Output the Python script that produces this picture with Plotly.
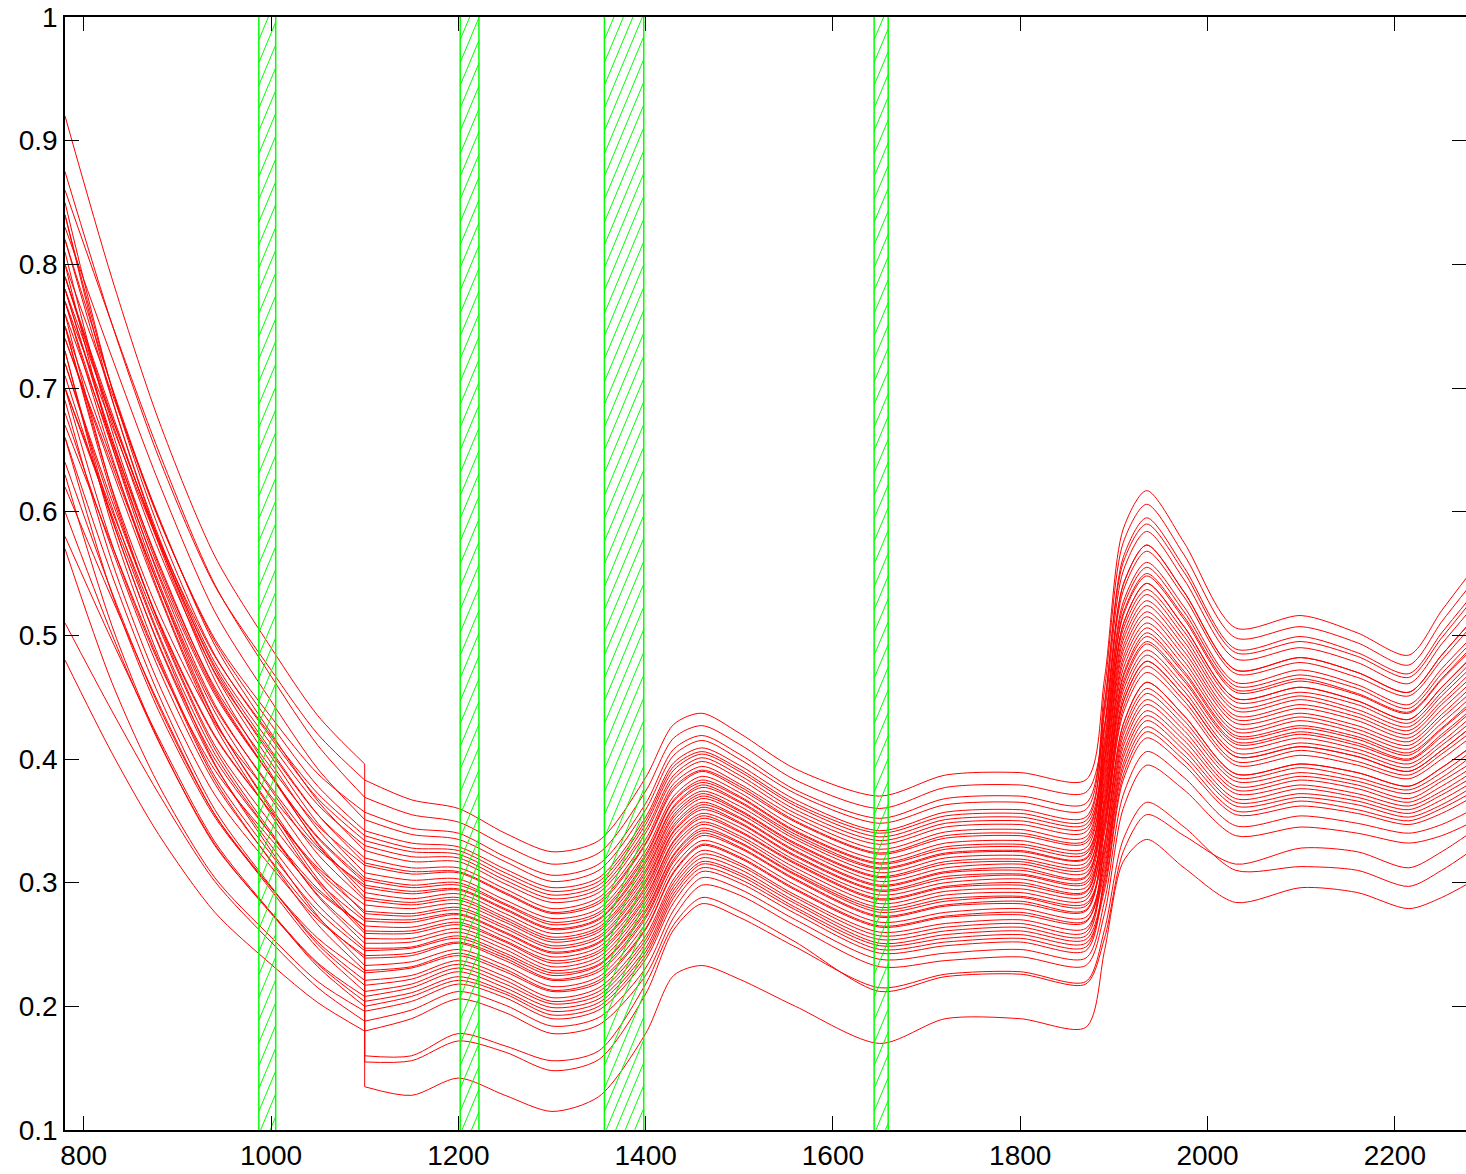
import plotly.graph_objects as go

# ---------------- data ----------------
LEFT_X = [780, 830, 880, 940, 1000, 1050, 1100]
RIGHT_X = [1100, 1150, 1200, 1250, 1300, 1350, 1400, 1430, 1460, 1500, 1560, 1650,
           1720, 1800, 1870, 1890, 1910, 1935, 1975, 2030, 2100, 2160, 2215, 2250, 2280]

left_rows = [
    [0.920, 0.789, 0.674, 0.564, 0.490, 0.435, 0.396],
    [0.780, 0.660, 0.554, 0.454, 0.386, 0.336, 0.300],
    [0.700, 0.574, 0.478, 0.391, 0.335, 0.293, 0.265],
    [0.875, 0.752, 0.644, 0.540, 0.472, 0.420, 0.383],
    [0.860, 0.752, 0.649, 0.541, 0.467, 0.411, 0.369],
    [0.840, 0.700, 0.594, 0.497, 0.434, 0.388, 0.357],
    [0.820, 0.701, 0.595, 0.495, 0.428, 0.378, 0.342],
    [0.850, 0.700, 0.587, 0.484, 0.417, 0.368, 0.334],
    [0.800, 0.696, 0.596, 0.492, 0.421, 0.366, 0.326],
    [0.790, 0.673, 0.569, 0.470, 0.405, 0.355, 0.320],
    [0.810, 0.666, 0.557, 0.458, 0.393, 0.346, 0.314],
    [0.780, 0.676, 0.577, 0.473, 0.402, 0.348, 0.308],
    [0.770, 0.653, 0.550, 0.452, 0.386, 0.337, 0.302],
    [0.800, 0.654, 0.543, 0.442, 0.377, 0.329, 0.296],
    [0.760, 0.657, 0.559, 0.456, 0.386, 0.332, 0.292],
    [0.780, 0.657, 0.548, 0.444, 0.375, 0.323, 0.286],
    [0.750, 0.614, 0.511, 0.418, 0.357, 0.312, 0.282],
    [0.740, 0.638, 0.540, 0.438, 0.368, 0.315, 0.275],
    [0.770, 0.645, 0.535, 0.431, 0.361, 0.308, 0.271],
    [0.730, 0.595, 0.493, 0.400, 0.339, 0.295, 0.265],
    [0.750, 0.642, 0.540, 0.432, 0.359, 0.303, 0.261],
    [0.720, 0.604, 0.501, 0.404, 0.339, 0.290, 0.255],
    [0.700, 0.601, 0.507, 0.408, 0.341, 0.289, 0.251],
    [0.730, 0.589, 0.483, 0.386, 0.323, 0.277, 0.245],
    [0.680, 0.570, 0.473, 0.380, 0.318, 0.272, 0.239],
    [0.700, 0.597, 0.499, 0.396, 0.326, 0.273, 0.233],
    [0.660, 0.534, 0.439, 0.353, 0.296, 0.255, 0.227],
    [0.640, 0.535, 0.443, 0.355, 0.296, 0.252, 0.221],
    [0.620, 0.530, 0.445, 0.355, 0.294, 0.247, 0.212],
    [0.600, 0.501, 0.414, 0.331, 0.275, 0.234, 0.204],
    [0.570, 0.462, 0.379, 0.304, 0.256, 0.220, 0.196],
    [0.510, 0.439, 0.372, 0.301, 0.252, 0.215, 0.188],
    [0.480, 0.405, 0.339, 0.276, 0.234, 0.203, 0.180],
    [0.830, 0.725, 0.624, 0.519, 0.447, 0.392, 0.351],
    [0.790, 0.677, 0.578, 0.483, 0.419, 0.372, 0.338],
    [0.840, 0.692, 0.580, 0.478, 0.412, 0.363, 0.330],
    [0.770, 0.670, 0.575, 0.475, 0.407, 0.355, 0.316],
    [0.820, 0.691, 0.577, 0.469, 0.397, 0.343, 0.304],
    [0.750, 0.619, 0.519, 0.429, 0.370, 0.327, 0.298],
    [0.790, 0.680, 0.574, 0.464, 0.388, 0.331, 0.288],
    [0.720, 0.609, 0.512, 0.419, 0.357, 0.310, 0.277],
    [0.760, 0.618, 0.510, 0.411, 0.348, 0.301, 0.269],
    [0.740, 0.634, 0.533, 0.427, 0.355, 0.300, 0.259],
    [0.710, 0.594, 0.492, 0.395, 0.330, 0.282, 0.247],
    [0.690, 0.560, 0.461, 0.371, 0.313, 0.270, 0.241],
    [0.670, 0.573, 0.480, 0.383, 0.317, 0.266, 0.229],
    [0.660, 0.549, 0.452, 0.359, 0.297, 0.250, 0.217],
    [0.630, 0.508, 0.415, 0.330, 0.276, 0.235, 0.208],
    [0.580, 0.496, 0.417, 0.333, 0.276, 0.232, 0.200],
]

right_rows = [
    [0.135, 0.128, 0.142, 0.128, 0.115, 0.127, 0.178, 0.225, 0.233, 0.222, 0.200, 0.170, 0.190, 0.190, 0.183, 0.245, 0.317, 0.335, 0.312, 0.284, 0.296, 0.292, 0.279, 0.288, 0.300],
    [0.155, 0.156, 0.172, 0.163, 0.148, 0.157, 0.210, 0.262, 0.283, 0.272, 0.248, 0.215, 0.226, 0.228, 0.220, 0.262, 0.335, 0.365, 0.345, 0.310, 0.313, 0.310, 0.297, 0.310, 0.325],
    [0.160, 0.160, 0.178, 0.168, 0.156, 0.164, 0.218, 0.266, 0.288, 0.277, 0.252, 0.212, 0.224, 0.226, 0.218, 0.255, 0.325, 0.355, 0.338, 0.315, 0.328, 0.325, 0.312, 0.325, 0.340],
    [0.383, 0.367, 0.360, 0.340, 0.325, 0.334, 0.385, 0.428, 0.437, 0.421, 0.392, 0.370, 0.387, 0.389, 0.383, 0.465, 0.586, 0.617, 0.575, 0.506, 0.516, 0.502, 0.484, 0.520, 0.550],
    [0.369, 0.355, 0.349, 0.330, 0.315, 0.324, 0.374, 0.417, 0.427, 0.412, 0.383, 0.360, 0.377, 0.379, 0.373, 0.427, 0.541, 0.573, 0.535, 0.472, 0.482, 0.470, 0.454, 0.484, 0.510],
    [0.357, 0.344, 0.340, 0.321, 0.306, 0.315, 0.364, 0.408, 0.419, 0.404, 0.375, 0.352, 0.368, 0.370, 0.364, 0.446, 0.563, 0.595, 0.555, 0.489, 0.499, 0.486, 0.469, 0.502, 0.530],
    [0.342, 0.332, 0.329, 0.311, 0.296, 0.304, 0.353, 0.397, 0.409, 0.395, 0.367, 0.342, 0.357, 0.359, 0.353, 0.437, 0.552, 0.584, 0.545, 0.481, 0.490, 0.478, 0.461, 0.493, 0.520],
    [0.334, 0.325, 0.323, 0.305, 0.290, 0.298, 0.347, 0.391, 0.404, 0.390, 0.362, 0.337, 0.351, 0.353, 0.347, 0.408, 0.518, 0.550, 0.515, 0.456, 0.465, 0.453, 0.438, 0.465, 0.489],
    [0.326, 0.317, 0.317, 0.299, 0.284, 0.292, 0.340, 0.384, 0.398, 0.384, 0.356, 0.331, 0.345, 0.347, 0.341, 0.423, 0.536, 0.568, 0.531, 0.469, 0.478, 0.466, 0.451, 0.480, 0.506],
    [0.320, 0.312, 0.312, 0.295, 0.279, 0.288, 0.335, 0.380, 0.394, 0.380, 0.353, 0.327, 0.341, 0.343, 0.337, 0.416, 0.527, 0.559, 0.523, 0.462, 0.472, 0.460, 0.444, 0.473, 0.497],
    [0.314, 0.307, 0.308, 0.291, 0.275, 0.283, 0.331, 0.375, 0.390, 0.376, 0.349, 0.323, 0.336, 0.338, 0.332, 0.389, 0.496, 0.528, 0.495, 0.439, 0.448, 0.437, 0.423, 0.447, 0.469],
    [0.308, 0.302, 0.303, 0.286, 0.271, 0.279, 0.326, 0.370, 0.386, 0.373, 0.345, 0.319, 0.332, 0.334, 0.328, 0.412, 0.523, 0.555, 0.519, 0.459, 0.468, 0.457, 0.441, 0.469, 0.493],
    [0.302, 0.296, 0.298, 0.282, 0.266, 0.274, 0.321, 0.366, 0.381, 0.369, 0.341, 0.315, 0.327, 0.329, 0.323, 0.400, 0.509, 0.542, 0.507, 0.449, 0.458, 0.447, 0.432, 0.458, 0.481],
    [0.296, 0.291, 0.294, 0.278, 0.262, 0.270, 0.316, 0.361, 0.377, 0.365, 0.337, 0.311, 0.323, 0.325, 0.319, 0.374, 0.478, 0.510, 0.479, 0.425, 0.434, 0.424, 0.411, 0.433, 0.453],
    [0.292, 0.287, 0.291, 0.275, 0.259, 0.267, 0.313, 0.358, 0.374, 0.362, 0.335, 0.308, 0.320, 0.322, 0.316, 0.393, 0.500, 0.533, 0.499, 0.442, 0.451, 0.440, 0.426, 0.451, 0.473],
    [0.286, 0.282, 0.286, 0.270, 0.254, 0.262, 0.308, 0.353, 0.370, 0.358, 0.331, 0.304, 0.315, 0.317, 0.311, 0.381, 0.487, 0.519, 0.487, 0.432, 0.441, 0.431, 0.417, 0.440, 0.461],
    [0.282, 0.279, 0.283, 0.268, 0.252, 0.260, 0.305, 0.350, 0.368, 0.356, 0.329, 0.301, 0.312, 0.315, 0.308, 0.361, 0.462, 0.495, 0.465, 0.414, 0.422, 0.413, 0.400, 0.420, 0.439],
    [0.275, 0.273, 0.278, 0.263, 0.247, 0.255, 0.300, 0.345, 0.363, 0.352, 0.325, 0.297, 0.308, 0.310, 0.304, 0.385, 0.491, 0.524, 0.491, 0.435, 0.444, 0.434, 0.420, 0.444, 0.465],
    [0.271, 0.270, 0.275, 0.260, 0.244, 0.252, 0.297, 0.342, 0.361, 0.349, 0.322, 0.294, 0.305, 0.307, 0.301, 0.370, 0.473, 0.506, 0.475, 0.422, 0.431, 0.421, 0.408, 0.429, 0.449],
    [0.265, 0.264, 0.271, 0.256, 0.240, 0.248, 0.292, 0.338, 0.356, 0.345, 0.318, 0.290, 0.300, 0.303, 0.296, 0.351, 0.450, 0.484, 0.455, 0.405, 0.413, 0.405, 0.393, 0.411, 0.429],
    [0.261, 0.261, 0.268, 0.253, 0.237, 0.245, 0.289, 0.334, 0.354, 0.342, 0.316, 0.287, 0.297, 0.300, 0.293, 0.364, 0.466, 0.499, 0.469, 0.417, 0.425, 0.416, 0.403, 0.424, 0.443],
    [0.255, 0.255, 0.263, 0.249, 0.232, 0.240, 0.284, 0.330, 0.349, 0.338, 0.312, 0.283, 0.293, 0.295, 0.289, 0.343, 0.441, 0.475, 0.447, 0.398, 0.407, 0.398, 0.387, 0.404, 0.421],
    [0.251, 0.252, 0.260, 0.246, 0.229, 0.237, 0.281, 0.327, 0.347, 0.336, 0.309, 0.280, 0.290, 0.292, 0.286, 0.355, 0.455, 0.488, 0.459, 0.409, 0.417, 0.408, 0.396, 0.414, 0.433],
    [0.245, 0.247, 0.255, 0.241, 0.225, 0.233, 0.276, 0.322, 0.342, 0.332, 0.306, 0.276, 0.285, 0.288, 0.281, 0.332, 0.428, 0.462, 0.435, 0.388, 0.396, 0.389, 0.378, 0.393, 0.409],
    [0.239, 0.241, 0.251, 0.237, 0.221, 0.228, 0.271, 0.317, 0.338, 0.328, 0.302, 0.272, 0.281, 0.283, 0.277, 0.340, 0.437, 0.470, 0.443, 0.395, 0.403, 0.395, 0.384, 0.400, 0.417],
    [0.233, 0.236, 0.246, 0.233, 0.216, 0.224, 0.267, 0.313, 0.334, 0.324, 0.298, 0.268, 0.276, 0.279, 0.272, 0.317, 0.410, 0.444, 0.419, 0.375, 0.383, 0.376, 0.365, 0.378, 0.392],
    [0.227, 0.231, 0.241, 0.228, 0.212, 0.219, 0.262, 0.308, 0.330, 0.320, 0.294, 0.264, 0.272, 0.274, 0.268, 0.328, 0.423, 0.457, 0.431, 0.385, 0.393, 0.385, 0.375, 0.389, 0.405],
    [0.221, 0.225, 0.237, 0.224, 0.207, 0.215, 0.257, 0.303, 0.326, 0.316, 0.290, 0.260, 0.267, 0.270, 0.263, 0.309, 0.401, 0.435, 0.411, 0.368, 0.376, 0.369, 0.359, 0.371, 0.384],
    [0.212, 0.218, 0.231, 0.218, 0.202, 0.209, 0.251, 0.297, 0.320, 0.311, 0.285, 0.254, 0.261, 0.264, 0.257, 0.321, 0.414, 0.448, 0.423, 0.378, 0.386, 0.379, 0.368, 0.382, 0.396],
    [0.204, 0.211, 0.224, 0.212, 0.196, 0.203, 0.244, 0.291, 0.315, 0.306, 0.280, 0.249, 0.255, 0.258, 0.251, 0.294, 0.383, 0.417, 0.395, 0.355, 0.362, 0.356, 0.347, 0.356, 0.368],
    [0.196, 0.204, 0.218, 0.207, 0.190, 0.197, 0.238, 0.284, 0.309, 0.300, 0.275, 0.243, 0.249, 0.252, 0.245, 0.302, 0.392, 0.426, 0.403, 0.362, 0.369, 0.363, 0.353, 0.363, 0.376],
    [0.188, 0.197, 0.212, 0.201, 0.184, 0.191, 0.231, 0.278, 0.304, 0.295, 0.270, 0.238, 0.243, 0.246, 0.239, 0.285, 0.371, 0.406, 0.385, 0.346, 0.354, 0.348, 0.340, 0.347, 0.358],
    [0.180, 0.190, 0.206, 0.195, 0.178, 0.185, 0.225, 0.272, 0.298, 0.290, 0.265, 0.232, 0.237, 0.240, 0.233, 0.275, 0.360, 0.395, 0.375, 0.338, 0.345, 0.340, 0.332, 0.338, 0.348],
    [0.351, 0.339, 0.335, 0.317, 0.301, 0.310, 0.359, 0.403, 0.415, 0.400, 0.372, 0.348, 0.363, 0.365, 0.359, 0.456, 0.575, 0.606, 0.565, 0.498, 0.507, 0.494, 0.476, 0.511, 0.540],
    [0.338, 0.328, 0.326, 0.308, 0.293, 0.301, 0.350, 0.394, 0.406, 0.392, 0.364, 0.340, 0.354, 0.356, 0.350, 0.442, 0.559, 0.590, 0.551, 0.486, 0.495, 0.483, 0.466, 0.498, 0.526],
    [0.330, 0.321, 0.320, 0.302, 0.287, 0.295, 0.343, 0.387, 0.401, 0.387, 0.359, 0.334, 0.348, 0.350, 0.344, 0.400, 0.509, 0.542, 0.507, 0.449, 0.458, 0.447, 0.432, 0.458, 0.481],
    [0.316, 0.309, 0.309, 0.292, 0.276, 0.285, 0.332, 0.377, 0.391, 0.378, 0.350, 0.324, 0.338, 0.340, 0.334, 0.427, 0.541, 0.573, 0.535, 0.472, 0.482, 0.470, 0.454, 0.484, 0.510],
    [0.304, 0.298, 0.300, 0.283, 0.268, 0.276, 0.323, 0.367, 0.383, 0.370, 0.342, 0.316, 0.329, 0.331, 0.325, 0.378, 0.482, 0.515, 0.483, 0.429, 0.437, 0.427, 0.414, 0.436, 0.457],
    [0.298, 0.293, 0.295, 0.279, 0.263, 0.271, 0.318, 0.362, 0.379, 0.366, 0.339, 0.312, 0.324, 0.326, 0.320, 0.406, 0.516, 0.548, 0.513, 0.454, 0.463, 0.452, 0.437, 0.464, 0.487],
    [0.288, 0.284, 0.288, 0.272, 0.256, 0.264, 0.310, 0.355, 0.372, 0.359, 0.332, 0.305, 0.317, 0.319, 0.313, 0.366, 0.468, 0.502, 0.471, 0.419, 0.427, 0.418, 0.405, 0.425, 0.445],
    [0.277, 0.275, 0.280, 0.265, 0.249, 0.257, 0.302, 0.347, 0.365, 0.353, 0.326, 0.298, 0.309, 0.312, 0.305, 0.397, 0.505, 0.537, 0.503, 0.446, 0.454, 0.444, 0.429, 0.454, 0.477],
    [0.269, 0.268, 0.274, 0.259, 0.243, 0.251, 0.295, 0.341, 0.359, 0.348, 0.321, 0.293, 0.303, 0.306, 0.299, 0.347, 0.446, 0.479, 0.451, 0.402, 0.410, 0.402, 0.390, 0.407, 0.425],
    [0.259, 0.259, 0.266, 0.252, 0.235, 0.243, 0.287, 0.333, 0.352, 0.341, 0.315, 0.286, 0.296, 0.298, 0.292, 0.359, 0.459, 0.493, 0.463, 0.412, 0.420, 0.411, 0.399, 0.418, 0.437],
    [0.247, 0.248, 0.257, 0.243, 0.227, 0.234, 0.278, 0.323, 0.344, 0.333, 0.307, 0.278, 0.287, 0.289, 0.283, 0.324, 0.419, 0.453, 0.427, 0.382, 0.389, 0.382, 0.372, 0.385, 0.401],
    [0.241, 0.243, 0.252, 0.239, 0.222, 0.230, 0.273, 0.319, 0.340, 0.329, 0.303, 0.273, 0.282, 0.285, 0.278, 0.347, 0.446, 0.479, 0.451, 0.402, 0.410, 0.402, 0.390, 0.407, 0.425],
    [0.229, 0.232, 0.243, 0.230, 0.213, 0.221, 0.263, 0.309, 0.331, 0.321, 0.295, 0.265, 0.273, 0.276, 0.269, 0.313, 0.405, 0.439, 0.415, 0.372, 0.379, 0.372, 0.362, 0.374, 0.388],
    [0.217, 0.222, 0.234, 0.221, 0.204, 0.212, 0.254, 0.300, 0.323, 0.314, 0.288, 0.257, 0.264, 0.267, 0.260, 0.332, 0.428, 0.462, 0.435, 0.388, 0.396, 0.389, 0.378, 0.393, 0.409],
    [0.208, 0.215, 0.228, 0.215, 0.199, 0.206, 0.247, 0.294, 0.317, 0.308, 0.283, 0.251, 0.258, 0.261, 0.254, 0.298, 0.387, 0.422, 0.399, 0.358, 0.366, 0.359, 0.350, 0.360, 0.372],
    [0.200, 0.208, 0.221, 0.210, 0.193, 0.200, 0.241, 0.288, 0.312, 0.303, 0.278, 0.246, 0.252, 0.255, 0.248, 0.305, 0.396, 0.431, 0.407, 0.365, 0.372, 0.366, 0.356, 0.367, 0.380],
]

BAND_START = [987, 1202, 1356, 1644]
BAND_END = [1005, 1222, 1398, 1659]

X_TICKS = [800, 1000, 1200, 1400, 1600, 1800, 2000, 2200]
Y_TICKS = [0.1, 0.2, 0.3, 0.4, 0.5, 0.6, 0.7, 0.8, 0.9, 1.0]
Y_TICK_TEXT = ["0.1", "0.2", "0.3", "0.4", "0.5", "0.6", "0.7", "0.8", "0.9", "1"]

# ---------------- layout / style ----------------
W, H = 1466, 1174
ML, MR, MT, MB = 65, 0, 17, 44
X_RANGE = [780, 2276]
Y_RANGE = [0.1, 1.0]
RED = "#ff0000"
GREEN = "#00ff00"
FONT = dict(family="Liberation Sans, Arial, Helvetica, sans-serif", size=28, color="black")

fig = go.Figure()

for lrow, rrow in zip(left_rows, right_rows):
    fig.add_trace(go.Scatter(x=LEFT_X, y=lrow, mode="lines",
                             line=dict(color=RED, width=1, shape="spline", smoothing=0.8),
                             hoverinfo="skip"))
    fig.add_trace(go.Scatter(x=RIGHT_X, y=rrow, mode="lines",
                             line=dict(color=RED, width=1, shape="spline", smoothing=0.8),
                             hoverinfo="skip"))
    if abs(lrow[-1] - rrow[0]) > 1e-9:
        fig.add_trace(go.Scatter(x=[LEFT_X[-1], RIGHT_X[0]], y=[lrow[-1], rrow[0]],
                                 mode="lines", line=dict(color=RED, width=1),
                                 hoverinfo="skip"))

# hatched green bands (hatch lines derived from the band edges)
px_x = (W - ML - MR) / (X_RANGE[1] - X_RANGE[0])
px_y = (H - MT - MB) / (Y_RANGE[1] - Y_RANGE[0])
HATCH_SLOPE_PX = 2.4
HATCH_GAP_PX = 9.5
k = HATCH_SLOPE_PX * px_x / px_y
gap = HATCH_GAP_PX / px_x
ymin, ymax = Y_RANGE
span = (ymax - ymin) / k
hx, hy = [], []
for x0, x1 in zip(BAND_START, BAND_END):
    c = x0 - span
    while c < x1:
        xa = max(x0, c)
        xb = min(x1, c + span)
        if xb > xa:
            hx += [xa, xb, None]
            hy += [ymin + k * (xa - c), ymin + k * (xb - c), None]
        c += gap
fig.add_trace(go.Scatter(x=hx, y=hy, mode="lines", line=dict(color=GREEN, width=1),
                         hoverinfo="skip", connectgaps=False))

ex, ey = [], []
for x0, x1 in zip(BAND_START, BAND_END):
    ex += [x0, x0, None, x1, x1, None]
    ey += [ymin, ymax, None, ymin, ymax, None]
fig.add_trace(go.Scatter(x=ex, y=ey, mode="lines", line=dict(color=GREEN, width=1.5),
                         hoverinfo="skip", connectgaps=False))

# invisible trace so the right-hand tick axis is drawn
fig.add_trace(go.Scatter(x=[None], y=[None], yaxis="y2", mode="lines", hoverinfo="skip"))

tick_style = dict(showgrid=False, zeroline=False, ticks="inside", ticklen=14,
                  tickwidth=1, tickcolor="black", tickfont=FONT)

fig.update_layout(
    width=W, height=H,
    margin=dict(l=ML, r=MR, t=MT, b=MB, pad=0),
    paper_bgcolor="white", plot_bgcolor="white",
    showlegend=False,
    xaxis=dict(range=X_RANGE, tickvals=X_TICKS, ticktext=[str(v) for v in X_TICKS],
               showline=True, linecolor="black", linewidth=1.5, mirror="ticks",
               **tick_style),
    yaxis=dict(range=Y_RANGE, tickvals=Y_TICKS, ticktext=Y_TICK_TEXT,
               showline=True, linecolor="black", linewidth=1.5, mirror=False,
               **tick_style),
    yaxis2=dict(range=Y_RANGE, tickvals=Y_TICKS, overlaying="y", side="right",
                showline=False, showticklabels=False, **tick_style),
)

fig.write_html("out.html")
